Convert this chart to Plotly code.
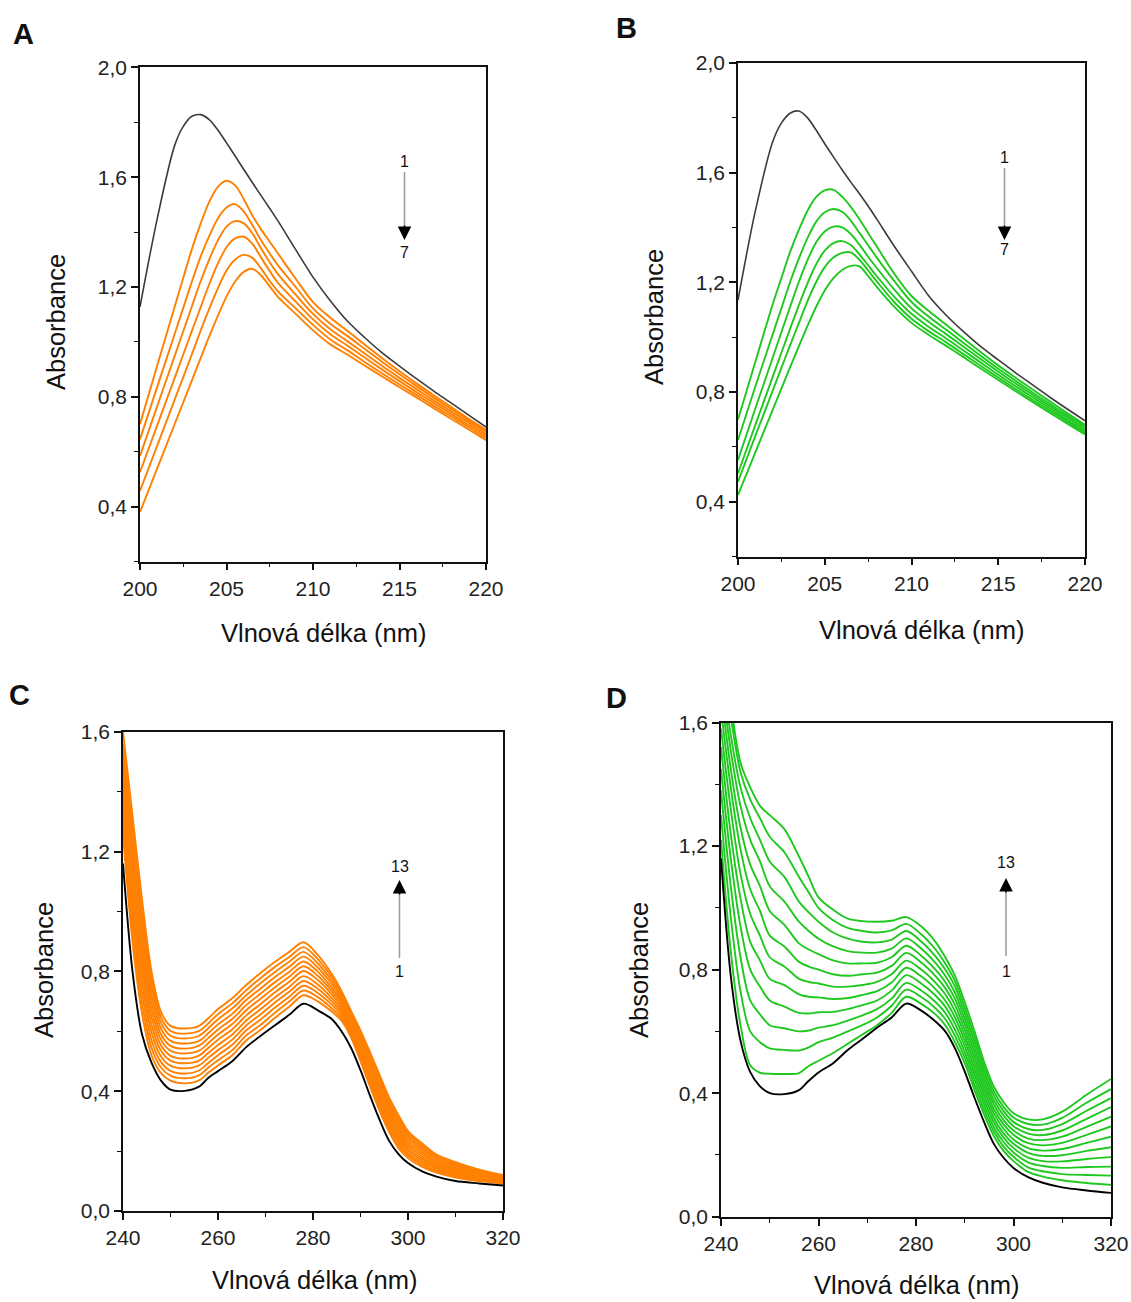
import plotly.graph_objects as go

# ---------------- DATA ----------------
A_X = [200, 201, 202, 202.5, 203, 203.5, 204, 204.5, 205, 205.5, 206, 206.5, 207, 207.5, 208,
       209, 210, 211, 212, 213, 214, 215, 216, 217, 218, 219, 220]
A_1 = [1.128, 1.45, 1.715, 1.785, 1.822, 1.828, 1.81, 1.772, 1.725, 1.677, 1.628, 1.58, 1.533, 1.486, 1.438,
       1.336, 1.236, 1.15, 1.075, 1.015, 0.96, 0.912, 0.865, 0.82, 0.777, 0.733, 0.69]
A_2 = [0.70, 0.915, 1.127, 1.233, 1.338, 1.43, 1.51, 1.565, 1.587, 1.57, 1.52, 1.46, 1.41, 1.365, 1.32,
       1.23, 1.145, 1.088, 1.04, 0.99, 0.94, 0.893, 0.848, 0.805, 0.763, 0.72, 0.68]
A_3 = [0.645, 0.837, 1.028, 1.124, 1.22, 1.31, 1.385, 1.45, 1.49, 1.502, 1.475, 1.425, 1.37, 1.322, 1.277,
       1.2, 1.122, 1.066, 1.021, 0.974, 0.927, 0.882, 0.838, 0.796, 0.755, 0.714, 0.673]
A_4 = [0.585, 0.767, 0.948, 1.039, 1.13, 1.22, 1.30, 1.37, 1.42, 1.44, 1.432, 1.395, 1.34, 1.29, 1.245,
       1.172, 1.102, 1.046, 1.002, 0.957, 0.912, 0.869, 0.827, 0.786, 0.746, 0.706, 0.665]
A_5 = [0.525, 0.697, 0.868, 0.954, 1.04, 1.125, 1.21, 1.285, 1.345, 1.377, 1.383, 1.357, 1.307, 1.258, 1.213,
       1.147, 1.082, 1.028, 0.986, 0.942, 0.899, 0.857, 0.816, 0.777, 0.737, 0.697, 0.658]
A_6 = [0.457, 0.623, 0.789, 0.872, 0.955, 1.04, 1.12, 1.195, 1.26, 1.30, 1.317, 1.306, 1.267, 1.222, 1.182,
       1.122, 1.062, 1.009, 0.969, 0.926, 0.885, 0.845, 0.806, 0.767, 0.728, 0.689, 0.65]
A_7 = [0.38, 0.54, 0.70, 0.78, 0.86, 0.94, 1.02, 1.095, 1.165, 1.22, 1.255, 1.266, 1.242, 1.202, 1.162,
       1.102, 1.042, 0.991, 0.953, 0.913, 0.874, 0.835, 0.797, 0.758, 0.719, 0.681, 0.642]

B_X = A_X
B_1 = [1.135, 1.46, 1.712, 1.78, 1.816, 1.824, 1.80, 1.755, 1.705, 1.657, 1.61, 1.565, 1.523, 1.478, 1.43,
       1.332, 1.24, 1.15, 1.08, 1.02, 0.965, 0.917, 0.87, 0.825, 0.78, 0.737, 0.695]
B_2 = [0.70, 0.91, 1.12, 1.215, 1.31, 1.39, 1.46, 1.51, 1.535, 1.537, 1.512, 1.475, 1.43, 1.38, 1.33,
       1.232, 1.15, 1.095, 1.045, 0.995, 0.945, 0.897, 0.852, 0.808, 0.765, 0.722, 0.68]
B_3 = [0.625, 0.82, 1.01, 1.105, 1.20, 1.285, 1.36, 1.42, 1.455, 1.467, 1.457, 1.425, 1.38, 1.335, 1.29,
       1.205, 1.128, 1.074, 1.027, 0.979, 0.931, 0.885, 0.841, 0.797, 0.755, 0.714, 0.673]
B_4 = [0.552, 0.74, 0.925, 1.018, 1.11, 1.20, 1.28, 1.345, 1.385, 1.403, 1.40, 1.376, 1.337, 1.293, 1.252,
       1.174, 1.105, 1.055, 1.011, 0.965, 0.919, 0.874, 0.831, 0.789, 0.747, 0.706, 0.665]
B_5 = [0.504, 0.68, 0.855, 0.943, 1.03, 1.115, 1.195, 1.265, 1.315, 1.343, 1.35, 1.336, 1.302, 1.262, 1.222,
       1.148, 1.085, 1.037, 0.995, 0.951, 0.907, 0.863, 0.821, 0.78, 0.739, 0.698, 0.658]
B_6 = [0.473, 0.64, 0.805, 0.888, 0.97, 1.05, 1.13, 1.20, 1.255, 1.29, 1.307, 1.309, 1.282, 1.243, 1.203,
       1.128, 1.067, 1.021, 0.981, 0.938, 0.895, 0.853, 0.811, 0.771, 0.731, 0.691, 0.651]
B_7 = [0.425, 0.58, 0.735, 0.812, 0.89, 0.965, 1.04, 1.11, 1.17, 1.215, 1.245, 1.26, 1.258, 1.223, 1.183,
       1.111, 1.052, 1.008, 0.968, 0.927, 0.885, 0.844, 0.803, 0.763, 0.723, 0.684, 0.645]

CD_X = [240, 242, 244, 246, 248, 250, 253, 256, 258, 260, 263, 266, 269, 272, 275, 278, 281, 284,
        286, 288, 290, 292, 294, 296, 298, 300, 303, 306, 310, 315, 320]

C_1 = [1.16, 0.80, 0.59, 0.495, 0.435, 0.405, 0.401, 0.415, 0.445, 0.467, 0.50, 0.548, 0.585, 0.62, 0.655,
       0.692, 0.67, 0.64, 0.60, 0.545, 0.47, 0.385, 0.305, 0.235, 0.19, 0.16, 0.132, 0.115, 0.10, 0.092, 0.085]
C_2 = [1.26, 0.90, 0.66, 0.52, 0.46, 0.435, 0.426, 0.436, 0.462, 0.486, 0.52, 0.57, 0.605, 0.645, 0.682,
       0.72, 0.70, 0.665, 0.635, 0.58, 0.50, 0.415, 0.335, 0.265, 0.21, 0.177, 0.147, 0.128, 0.112, 0.10, 0.092]
C_3 = [1.29, 0.94, 0.695, 0.545, 0.479, 0.452, 0.443, 0.453, 0.479, 0.503, 0.537, 0.587, 0.622, 0.662, 0.699,
       0.736, 0.714, 0.676, 0.644, 0.588, 0.509, 0.425, 0.346, 0.275, 0.22, 0.185, 0.154, 0.133, 0.117, 0.103, 0.095]
C_4 = [1.32, 0.98, 0.73, 0.57, 0.497, 0.468, 0.459, 0.469, 0.495, 0.52, 0.555, 0.604, 0.64, 0.679, 0.715,
       0.752, 0.728, 0.688, 0.653, 0.596, 0.519, 0.436, 0.357, 0.286, 0.23, 0.193, 0.161, 0.139, 0.121, 0.107, 0.097]
C_5 = [1.35, 1.02, 0.765, 0.597, 0.516, 0.485, 0.476, 0.486, 0.512, 0.537, 0.572, 0.62, 0.657, 0.696, 0.732,
       0.768, 0.742, 0.699, 0.662, 0.604, 0.528, 0.446, 0.368, 0.296, 0.24, 0.202, 0.168, 0.144, 0.126, 0.11, 0.10]
C_6 = [1.38, 1.05, 0.80, 0.622, 0.535, 0.502, 0.493, 0.502, 0.528, 0.554, 0.589, 0.637, 0.674, 0.713, 0.748,
       0.784, 0.756, 0.71, 0.671, 0.612, 0.537, 0.457, 0.379, 0.307, 0.25, 0.21, 0.175, 0.15, 0.131, 0.114, 0.102]
C_7 = [1.41, 1.09, 0.83, 0.648, 0.553, 0.518, 0.509, 0.519, 0.545, 0.572, 0.606, 0.654, 0.691, 0.73, 0.765,
       0.801, 0.771, 0.722, 0.68, 0.62, 0.547, 0.467, 0.39, 0.317, 0.26, 0.218, 0.182, 0.155, 0.135, 0.117, 0.105]
C_8 = [1.44, 1.13, 0.865, 0.673, 0.572, 0.535, 0.526, 0.535, 0.561, 0.589, 0.624, 0.671, 0.709, 0.747, 0.782,
       0.817, 0.785, 0.733, 0.69, 0.628, 0.556, 0.478, 0.40, 0.328, 0.27, 0.226, 0.19, 0.161, 0.14, 0.121, 0.107]
C_9 = [1.47, 1.17, 0.90, 0.698, 0.59, 0.551, 0.542, 0.552, 0.578, 0.606, 0.641, 0.688, 0.726, 0.764, 0.798,
       0.833, 0.799, 0.744, 0.699, 0.636, 0.566, 0.488, 0.411, 0.338, 0.28, 0.234, 0.197, 0.166, 0.144, 0.124, 0.11]
C_10 = [1.50, 1.21, 0.935, 0.724, 0.609, 0.568, 0.559, 0.568, 0.594, 0.623, 0.658, 0.705, 0.743, 0.781, 0.815,
        0.849, 0.813, 0.756, 0.708, 0.644, 0.575, 0.499, 0.422, 0.349, 0.29, 0.243, 0.204, 0.172, 0.149, 0.128, 0.112]
C_11 = [1.53, 1.245, 0.97, 0.75, 0.628, 0.585, 0.576, 0.585, 0.611, 0.64, 0.676, 0.721, 0.761, 0.798, 0.832,
        0.865, 0.827, 0.767, 0.717, 0.652, 0.584, 0.509, 0.433, 0.359, 0.30, 0.251, 0.211, 0.177, 0.154, 0.131, 0.115]
C_12 = [1.56, 1.285, 1.005, 0.775, 0.646, 0.601, 0.592, 0.601, 0.627, 0.657, 0.693, 0.738, 0.778, 0.815, 0.848,
        0.881, 0.841, 0.779, 0.726, 0.66, 0.594, 0.52, 0.444, 0.37, 0.31, 0.259, 0.218, 0.183, 0.158, 0.134, 0.117]
C_13 = [1.60, 1.32, 1.04, 0.80, 0.665, 0.618, 0.609, 0.618, 0.644, 0.674, 0.71, 0.755, 0.795, 0.832, 0.865,
        0.897, 0.855, 0.79, 0.735, 0.668, 0.603, 0.53, 0.455, 0.38, 0.32, 0.267, 0.225, 0.188, 0.163, 0.138, 0.12]

D_1 = [1.16, 0.78, 0.57, 0.468, 0.422, 0.40, 0.397, 0.41, 0.44, 0.467, 0.497, 0.54, 0.575, 0.612, 0.645,
       0.69, 0.668, 0.632, 0.60, 0.545, 0.47, 0.385, 0.305, 0.235, 0.19, 0.158, 0.128, 0.11, 0.095, 0.085, 0.077]
D_2 = [1.22, 0.86, 0.62, 0.49, 0.466, 0.463, 0.462, 0.465, 0.488, 0.505, 0.53, 0.56, 0.59, 0.62, 0.66,
       0.712, 0.69, 0.655, 0.62, 0.565, 0.497, 0.41, 0.33, 0.26, 0.212, 0.18, 0.145, 0.13, 0.118, 0.109, 0.103]
D_3 = [1.30, 0.97, 0.73, 0.60, 0.565, 0.545, 0.54, 0.538, 0.548, 0.565, 0.58, 0.60, 0.62, 0.645, 0.683,
       0.735, 0.712, 0.675, 0.64, 0.585, 0.515, 0.427, 0.345, 0.275, 0.226, 0.194, 0.16, 0.147, 0.138, 0.135, 0.133]
D_4 = [1.38, 1.07, 0.84, 0.70, 0.655, 0.62, 0.61, 0.60, 0.603, 0.612, 0.62, 0.635, 0.652, 0.672, 0.706,
       0.757, 0.733, 0.695, 0.66, 0.605, 0.533, 0.445, 0.361, 0.289, 0.241, 0.208, 0.176, 0.164, 0.158, 0.161, 0.162]
D_5 = [1.45, 1.16, 0.94, 0.80, 0.745, 0.70, 0.68, 0.66, 0.658, 0.662, 0.663, 0.672, 0.685, 0.70, 0.732,
       0.782, 0.756, 0.716, 0.68, 0.625, 0.551, 0.462, 0.376, 0.304, 0.255, 0.222, 0.191, 0.18, 0.179, 0.187, 0.193]
D_6 = [1.52, 1.24, 1.03, 0.89, 0.83, 0.77, 0.75, 0.72, 0.712, 0.71, 0.705, 0.708, 0.718, 0.73, 0.758,
       0.806, 0.779, 0.737, 0.70, 0.645, 0.569, 0.479, 0.392, 0.318, 0.269, 0.236, 0.207, 0.197, 0.199, 0.213, 0.225]
D_7 = [1.58, 1.32, 1.11, 0.98, 0.91, 0.84, 0.81, 0.77, 0.76, 0.755, 0.745, 0.745, 0.75, 0.76, 0.785,
       0.829, 0.801, 0.758, 0.72, 0.665, 0.587, 0.496, 0.407, 0.333, 0.284, 0.25, 0.222, 0.214, 0.219, 0.239, 0.259]
D_8 = [1.64, 1.39, 1.19, 1.06, 0.99, 0.91, 0.875, 0.825, 0.81, 0.80, 0.785, 0.78, 0.785, 0.79, 0.812,
       0.854, 0.824, 0.779, 0.74, 0.685, 0.605, 0.514, 0.423, 0.347, 0.298, 0.265, 0.238, 0.231, 0.239, 0.265, 0.292]
D_9 = [1.70, 1.45, 1.26, 1.14, 1.07, 0.99, 0.945, 0.885, 0.865, 0.85, 0.83, 0.82, 0.82, 0.822, 0.84,
       0.877, 0.846, 0.80, 0.76, 0.705, 0.623, 0.531, 0.438, 0.362, 0.312, 0.279, 0.253, 0.248, 0.259, 0.291, 0.324]
D_10 = [1.75, 1.51, 1.33, 1.22, 1.15, 1.07, 1.02, 0.955, 0.925, 0.90, 0.875, 0.86, 0.855, 0.855, 0.868,
        0.901, 0.869, 0.822, 0.78, 0.725, 0.641, 0.548, 0.454, 0.376, 0.327, 0.293, 0.269, 0.264, 0.279, 0.317, 0.355]
D_11 = [1.80, 1.56, 1.39, 1.29, 1.22, 1.15, 1.10, 1.02, 0.985, 0.955, 0.92, 0.90, 0.89, 0.888, 0.897,
        0.925, 0.892, 0.843, 0.80, 0.745, 0.659, 0.566, 0.469, 0.391, 0.341, 0.307, 0.284, 0.281, 0.30, 0.343, 0.384]
D_12 = [1.85, 1.62, 1.44, 1.35, 1.29, 1.23, 1.18, 1.10, 1.05, 1.0, 0.96, 0.935, 0.925, 0.92, 0.927,
        0.948, 0.915, 0.865, 0.82, 0.763, 0.677, 0.583, 0.485, 0.405, 0.355, 0.321, 0.30, 0.298, 0.32, 0.369, 0.413]
D_13 = [1.90, 1.66, 1.47, 1.39, 1.33, 1.30, 1.255, 1.166, 1.10, 1.034, 0.994, 0.965, 0.957, 0.955, 0.958,
        0.97, 0.941, 0.89, 0.84, 0.78, 0.695, 0.60, 0.50, 0.42, 0.37, 0.335, 0.315, 0.315, 0.34, 0.395, 0.446]

X_TITLE = "Vlnová délka (nm)"
Y_TITLE = "Absorbance"

# ---------------- STYLE ----------------
W, H = 1131, 1302
FONT = "Arial, Liberation Sans, Helvetica, sans-serif"
ORANGE = "#FF8000"
GREEN = "#1FC81F"
GRAY_BLACK = "#3c3c3c"


def px(x):
    return x / W


def py(y):
    return 1 - y / H


fig = go.Figure()


def add(xs, ys, color, width, xa, ya):
    fig.add_trace(go.Scatter(x=xs, y=ys, mode="lines",
                             line=dict(color=color, width=width, shape="spline", smoothing=0.9),
                             xaxis=xa, yaxis=ya, showlegend=False, hoverinfo="skip"))


for s in [A_2, A_3, A_4, A_5, A_6, A_7]:
    add(A_X, s, ORANGE, 1.9, "x", "y")
add(A_X, A_1, GRAY_BLACK, 1.6, "x", "y")

for s in [B_2, B_3, B_4, B_5, B_6, B_7]:
    add(B_X, s, GREEN, 1.9, "x2", "y2")
add(B_X, B_1, GRAY_BLACK, 1.6, "x2", "y2")

for s in [C_2, C_3, C_4, C_5, C_6, C_7, C_8, C_9, C_10, C_11, C_12, C_13]:
    add(CD_X, s, ORANGE, 1.9, "x3", "y3")
add(CD_X, C_1, "#000000", 1.9, "x3", "y3")

for s in [D_2, D_3, D_4, D_5, D_6, D_7, D_8, D_9, D_10, D_11, D_12, D_13]:
    add(CD_X, s, GREEN, 1.9, "x4", "y4")
add(CD_X, D_1, "#000000", 1.9, "x4", "y4")

axis_common = dict(showline=True, linecolor="#111", linewidth=1.6, mirror=True,
                   ticks="outside", ticklen=7, tickwidth=1.5, tickcolor="#111",
                   showgrid=False, zeroline=False, automargin=False,
                   tickfont=dict(family=FONT, size=21, color="#222"))


def xaxis(domain, rng, dtick, minor, anchor):
    return dict(axis_common, domain=domain, range=rng, dtick=dtick, tick0=rng[0],
                tickformat="d", anchor=anchor,
                minor=dict(ticks="outside", ticklen=4, tickwidth=1.3, tickcolor="#111", dtick=minor))


def yaxis(domain, rng, anchor):
    return dict(axis_common, domain=domain, range=rng, dtick=0.4, tick0=0,
                tickformat=".1f", anchor=anchor,
                minor=dict(ticks="outside", ticklen=4, tickwidth=1.3, tickcolor="#111", dtick=0.2))


boxes = {
    "A": (140, 486, 67.4, 561.5),
    "B": (738, 1085, 62.8, 556.6),
    "C": (123, 503, 731.7, 1211),
    "D": (721, 1111, 722.5, 1216.7),
}


def dom(b):
    l, r, t, btm = b
    return [px(l), px(r)], [py(btm), py(t)]


ax_, ay_ = dom(boxes["A"])
bx_, by_ = dom(boxes["B"])
cx_, cy_ = dom(boxes["C"])
dx_, dy_ = dom(boxes["D"])

fig.update_layout(
    width=W, height=H, autosize=False,
    margin=dict(l=0, r=0, t=0, b=0, pad=0),
    paper_bgcolor="white", plot_bgcolor="white",
    separators=", ",
    xaxis=xaxis(ax_, [200, 220], 5, 2.5, "y"),
    yaxis=yaxis(ay_, [0.2, 2.0], "x"),
    xaxis2=xaxis(bx_, [200, 220], 5, 2.5, "y2"),
    yaxis2=yaxis(by_, [0.2, 2.0], "x2"),
    xaxis3=xaxis(cx_, [240, 320], 20, 10, "y3"),
    yaxis3=yaxis(cy_, [0, 1.6], "x3"),
    xaxis4=xaxis(dx_, [240, 320], 20, 10, "y4"),
    yaxis4=yaxis(dy_, [0, 1.6], "x4"),
)


def text_at(xp, yp, txt, size, bold=False, angle=0, color="#111"):
    fig.add_annotation(x=px(xp), y=py(yp), xref="paper", yref="paper",
                       text=("<b>%s</b>" % txt) if bold else txt, showarrow=False,
                       font=dict(family=FONT, size=size, color=color), textangle=angle,
                       xanchor="center", yanchor="middle")


# panel letters
text_at(23, 34, "A", 29, bold=True)
text_at(626, 28, "B", 29, bold=True)
text_at(19, 695, "C", 29, bold=True)
text_at(616, 698, "D", 29, bold=True)

# axis titles
text_at(324, 633, X_TITLE, 25.5)
text_at(922, 630, X_TITLE, 25.5)
text_at(315, 1280, X_TITLE, 25.5)
text_at(917, 1285, X_TITLE, 25.5)
text_at(56, 322, Y_TITLE, 25.5, angle=-90)
text_at(654, 317, Y_TITLE, 25.5, angle=-90)
text_at(44, 970, Y_TITLE, 25.5, angle=-90)
text_at(639, 970, Y_TITLE, 25.5, angle=-90)


def trend_arrow(x, y_label_start, y_label_end, lab_start, lab_end, y_line0, y_line1, y_tip, tail_len):
    text_at(x, y_label_start, lab_start, 16)
    text_at(x, y_label_end, lab_end, 16)
    fig.add_shape(type="line", xref="paper", yref="paper",
                  x0=px(x), x1=px(x), y0=py(y_line0), y1=py(y_line1),
                  line=dict(color="#9a9a9a", width=1.5))
    fig.add_annotation(x=px(x), y=py(y_tip), xref="paper", yref="paper", text="",
                       showarrow=True, ax=0, ay=tail_len, arrowhead=2, arrowsize=1.8,
                       arrowwidth=1.5, arrowcolor="#000")


trend_arrow(404.5, 161, 253, "1", "7", 172, 228, 240, -16)
trend_arrow(1004.5, 157, 249, "1", "7", 168, 226, 240, -16)
trend_arrow(399.5, 866, 971, "13", "1", 958, 892, 880, 16)
trend_arrow(1006, 862, 971, "13", "1", 956, 890, 878, 16)

fig.write_html("out.html")
